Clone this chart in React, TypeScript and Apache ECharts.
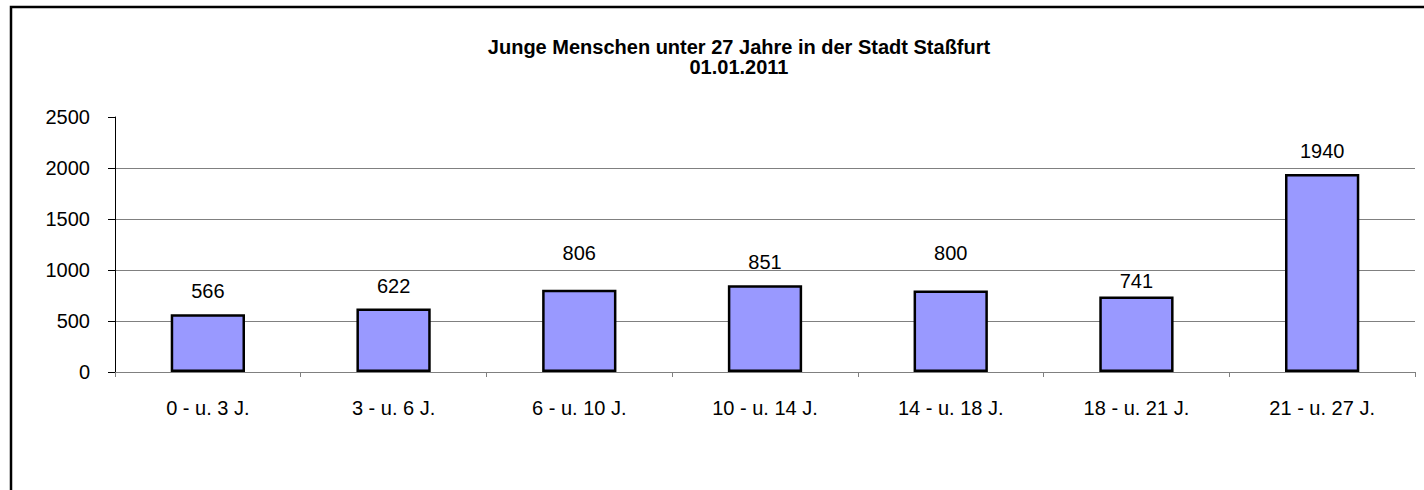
import React, { useEffect, useRef } from "react";
import * as echarts from "echarts";

const categories = [
  "0 - u. 3 J.",
  "3 - u. 6 J.",
  "6 - u. 10 J.",
  "10 - u. 14 J.",
  "14 - u. 18 J.",
  "18 - u. 21 J.",
  "21 - u. 27 J.",
];
const values = [566, 622, 806, 851, 800, 741, 1940];
const titleLines = ["Junge Menschen unter 27 Jahre in der Stadt Staßfurt", "01.01.2011"];
const yMin = 0;
const yMax = 2500;
const yInterval = 500;

const labelLift = [13, 13, 27, 13, 27, 5, 13];

const FONT = "'Liberation Sans', Arial, Helvetica, sans-serif";

export default function App() {
  const ref = useRef<HTMLDivElement>(null);
  useEffect(() => {
    if (!ref.current) return;
    const chart = echarts.init(ref.current, undefined, { renderer: "svg" });
    chart.setOption({
      animation: false,
      backgroundColor: "#fff",
      textStyle: { fontFamily: FONT },
      grid: { left: 115, right: 9, top: 117, bottom: 118, containLabel: false },
      graphic: [
        {
          type: "polyline",
          shape: { points: [[11, 490], [11, 7], [1424, 7]] },
          style: { stroke: "#000", lineWidth: 2.5, fill: "none" },
          silent: true,
        },
        {
          type: "text",
          x: 739,
          y: 57,
          style: {
            text: titleLines.join("\n"),
            fontFamily: FONT,
            fontSize: 20,
            lineHeight: 20,
            fontWeight: "bold",
            fill: "#000",
            align: "center",
            verticalAlign: "middle",
          },
        },
      ],
      xAxis: {
        type: "category",
        data: categories,
        boundaryGap: true,
        axisLine: { show: true, lineStyle: { color: "#808080", width: 1 } },
        axisTick: { show: true, length: 5, lineStyle: { color: "#808080" } },
        axisLabel: { color: "#000", fontSize: 20, fontFamily: FONT, margin: 26, interval: 0 },
        splitLine: { show: false },
      },
      yAxis: {
        type: "value",
        min: yMin,
        max: yMax,
        interval: yInterval,
        axisLine: { show: true, lineStyle: { color: "#000", width: 1 } },
        axisTick: { show: true, inside: false, length: 7, lineStyle: { color: "#000" } },
        axisLabel: {
          color: "#000",
          fontSize: 20,
          fontFamily: FONT,
          margin: 25,
          formatter: (v: number) => String(v),
        },
        splitLine: {
          show: true,
          showMaxLine: false,
          lineStyle: { color: "#808080", width: 1 },
        },
      },
      series: [
        {
          type: "bar",
          barWidth: "40%",
          data: values.map((v, i) => ({
            value: v,
            label: { distance: labelLift[i] },
          })),
          itemStyle: { color: "#9999FF", borderColor: "#000", borderWidth: 2.5 },
          label: {
            show: true,
            position: "top",
            color: "#000",
            fontSize: 20,
            fontFamily: FONT,
          },
        },
      ],
    });
    return () => chart.dispose();
  }, []);
  return (
    <div
      ref={ref}
      style={{
        position: "absolute",
        left: 0,
        top: 0,
        width: 1424,
        height: 490,
        overflow: "hidden",
      }}
    />
  );
}
